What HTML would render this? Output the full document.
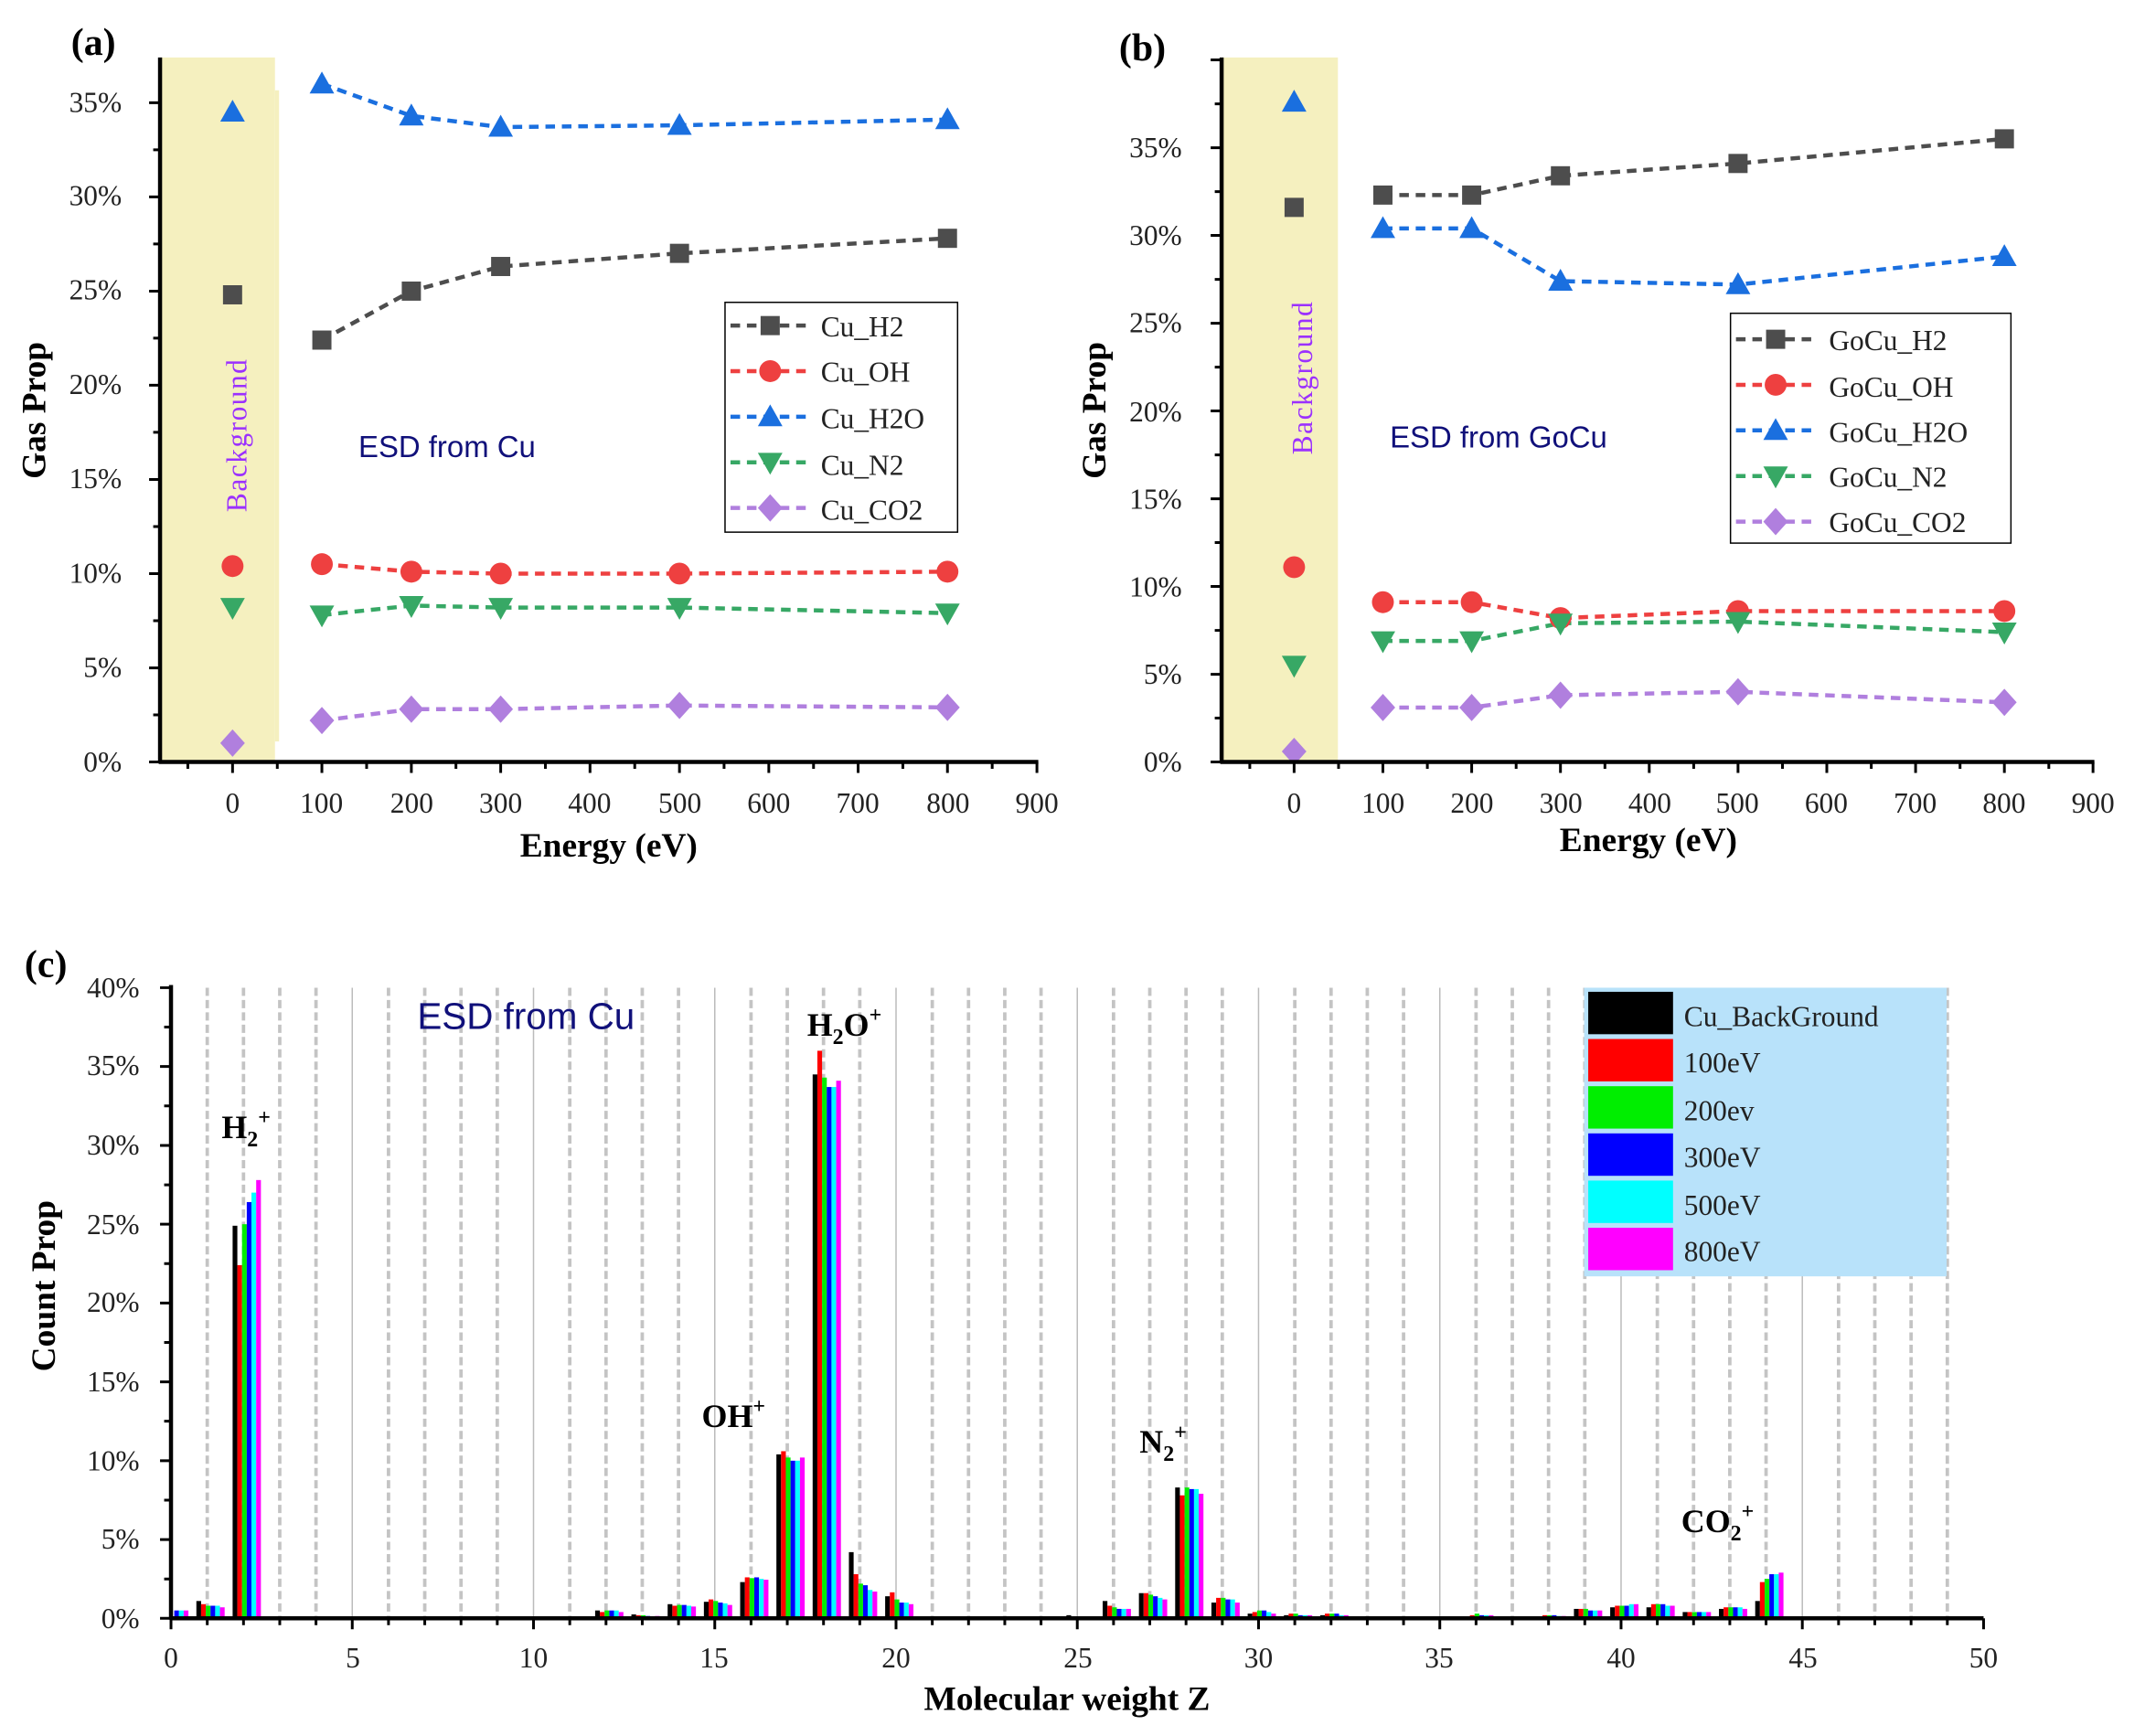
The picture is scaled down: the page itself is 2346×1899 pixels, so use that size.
<!DOCTYPE html>
<html><head><meta charset="utf-8"><style>
html,body{margin:0;padding:0;background:#fff;}
svg{display:block;}
text{font-family:"Liberation Serif",serif;}
.t{font-size:21px;fill:#222;}
.b{font-weight:bold;}
.s{font-family:"Liberation Sans","DejaVu Sans",sans-serif;fill:#10107a;}
.c0{fill:#000}.c1{fill:#ff0000}.c2{fill:#00ee00}.c3{fill:#0000ff}.c4{fill:#00ffff}.c5{fill:#ff00ff}
.dl{fill:none;stroke-width:3;stroke-dasharray:7 5;}
</style></head><body>
<svg width="2346" height="1899" viewBox="0 0 1568 1269" preserveAspectRatio="none" xmlns="http://www.w3.org/2000/svg">
<defs>
<rect id="m0" x="-7" y="-7" width="14" height="14"/>
<circle id="m1" r="8"/>
<polygon id="m2" points="-9,7 9,7 0,-9"/>
<polygon id="m3" points="-9,-7 9,-7 0,9"/>
<polygon id="m4" points="0,-10 9,0 0,10 -9,0"/>
</defs>
<rect width="1568" height="1269" fill="#fff"/>
<!-- ===== (a) ===== -->
<rect x="117" y="42" width="84" height="515" fill="#f5f0bf"/>
<rect x="201" y="66" width="3" height="476" fill="#f5f0bf"/>
<polyline class="dl" stroke="#4d4d4d" points="235.3,248.6 300.7,212.8 366,194.8 496.7,185.2 692.6,174.2"/>
<polyline class="dl" stroke="#ee4040" points="235.3,412.4 300.7,417.9 366,419.3 496.7,419.3 692.6,417.9"/>
<polyline class="dl" stroke="#1a6fdf" points="235.3,61.3 300.7,84.7 366,92.9 496.7,91.6 692.6,87.4"/>
<polyline class="dl" stroke="#37a865" points="235.3,449.6 300.7,442.7 366,444.1 496.7,444.1 692.6,448.2"/>
<polyline class="dl" stroke="#b07fde" points="235.3,526.7 300.7,518.4 366,518.4 496.7,515.7 692.6,517.1"/>
<g fill="#4d4d4d"><use href="#m0" x="170" y="215.5"/><use href="#m0" x="235.3" y="248.6"/><use href="#m0" x="300.7" y="212.8"/><use href="#m0" x="366" y="194.8"/><use href="#m0" x="496.7" y="185.2"/><use href="#m0" x="692.6" y="174.2"/></g>
<g fill="#ee4040"><use href="#m1" x="170" y="413.8"/><use href="#m1" x="235.3" y="412.4"/><use href="#m1" x="300.7" y="417.9"/><use href="#m1" x="366" y="419.3"/><use href="#m1" x="496.7" y="419.3"/><use href="#m1" x="692.6" y="417.9"/></g>
<g fill="#1a6fdf"><use href="#m2" x="170" y="81.9"/><use href="#m2" x="235.3" y="61.3"/><use href="#m2" x="300.7" y="84.7"/><use href="#m2" x="366" y="92.9"/><use href="#m2" x="496.7" y="91.6"/><use href="#m2" x="692.6" y="87.4"/></g>
<g fill="#37a865"><use href="#m3" x="170" y="444.1"/><use href="#m3" x="235.3" y="449.6"/><use href="#m3" x="300.7" y="442.7"/><use href="#m3" x="366" y="444.1"/><use href="#m3" x="496.7" y="444.1"/><use href="#m3" x="692.6" y="448.2"/></g>
<g fill="#b07fde"><use href="#m4" x="170" y="543.2"/><use href="#m4" x="235.3" y="526.7"/><use href="#m4" x="300.7" y="518.4"/><use href="#m4" x="366" y="518.4"/><use href="#m4" x="496.7" y="515.7"/><use href="#m4" x="692.6" y="517.1"/></g>
<line x1="117" y1="42" x2="117" y2="558" stroke="#000" stroke-width="3"/>
<line x1="116" y1="557" x2="759" y2="557" stroke="#000" stroke-width="3"/>
<path stroke="#000" stroke-width="2" fill="none" d="M109 557h8M109 488.2h8M109 419.3h8M109 350.5h8M109 281.6h8M109 212.8h8M109 143.9h8M109 75.1h8M112 522.6h5M112 453.7h5M112 384.9h5M112 316h5M112 247.2h5M112 178.3h5M112 109.5h5M137.3 557v5M170 557v8M202.7 557v5M235.3 557v8M268 557v5M300.7 557v8M333.3 557v5M366 557v8M398.7 557v5M431.3 557v8M464 557v5M496.7 557v8M529.3 557v5M562 557v8M594.7 557v5M627.3 557v8M660 557v5M692.6 557v8M725.3 557v5M758 557v8"/>
<!-- ===== (b) ===== -->
<rect x="893" y="42" width="85" height="515" fill="#f5f0bf"/>
<polyline class="dl" stroke="#4d4d4d" points="1010.9,142.6 1075.8,142.6 1140.7,128.5 1270.5,119.5 1465.2,101.5"/>
<polyline class="dl" stroke="#ee4040" points="1010.9,440.2 1075.8,440.2 1140.7,451.8 1270.5,446.7 1465.2,446.7"/>
<polyline class="dl" stroke="#1a6fdf" points="1010.9,167 1075.8,167 1140.7,205.5 1270.5,208 1465.2,187.5"/>
<polyline class="dl" stroke="#37a865" points="1010.9,468.5 1075.8,468.5 1140.7,455.6 1270.5,454.4 1465.2,462.1"/>
<polyline class="dl" stroke="#b07fde" points="1010.9,517.2 1075.8,517.2 1140.7,508.2 1270.5,505.7 1465.2,513.4"/>
<g fill="#4d4d4d"><use href="#m0" x="946" y="151.6"/><use href="#m0" x="1010.9" y="142.6"/><use href="#m0" x="1075.8" y="142.6"/><use href="#m0" x="1140.7" y="128.5"/><use href="#m0" x="1270.5" y="119.5"/><use href="#m0" x="1465.2" y="101.5"/></g>
<g fill="#ee4040"><use href="#m1" x="946" y="414.6"/><use href="#m1" x="1010.9" y="440.2"/><use href="#m1" x="1075.8" y="440.2"/><use href="#m1" x="1140.7" y="451.8"/><use href="#m1" x="1270.5" y="446.7"/><use href="#m1" x="1465.2" y="446.7"/></g>
<g fill="#1a6fdf"><use href="#m2" x="946" y="74.6"/><use href="#m2" x="1010.9" y="167"/><use href="#m2" x="1075.8" y="167"/><use href="#m2" x="1140.7" y="205.5"/><use href="#m2" x="1270.5" y="208"/><use href="#m2" x="1465.2" y="187.5"/></g>
<g fill="#37a865"><use href="#m3" x="946" y="486.4"/><use href="#m3" x="1010.9" y="468.5"/><use href="#m3" x="1075.8" y="468.5"/><use href="#m3" x="1140.7" y="455.6"/><use href="#m3" x="1270.5" y="454.4"/><use href="#m3" x="1465.2" y="462.1"/></g>
<g fill="#b07fde"><use href="#m4" x="946" y="549.3"/><use href="#m4" x="1010.9" y="517.2"/><use href="#m4" x="1075.8" y="517.2"/><use href="#m4" x="1140.7" y="508.2"/><use href="#m4" x="1270.5" y="505.7"/><use href="#m4" x="1465.2" y="513.4"/></g>
<line x1="893" y1="42" x2="893" y2="558" stroke="#000" stroke-width="3"/>
<line x1="892" y1="557" x2="1531" y2="557" stroke="#000" stroke-width="3"/>
<path stroke="#000" stroke-width="2" fill="none" d="M885 557h8M885 492.9h8M885 428.7h8M885 364.6h8M885 300.4h8M885 236.3h8M885 172.1h8M885 108h8M885 43.8h8M888 524.9h5M888 460.8h5M888 396.6h5M888 332.5h5M888 268.4h5M888 204.2h5M888 140.1h5M888 75.9h5M913.6 557v5M946 557v8M978.5 557v5M1010.9 557v8M1043.4 557v5M1075.8 557v8M1108.3 557v5M1140.7 557v8M1173.2 557v5M1205.6 557v8M1238.1 557v5M1270.5 557v8M1303 557v5M1335.4 557v8M1367.9 557v5M1400.3 557v8M1432.8 557v5M1465.2 557v8M1497.7 557v5M1530 557v8"/>
<!-- labels -->
<text x="52" y="40" class="b" font-size="28">(a)</text>
<text x="818" y="44" class="b" font-size="28">(b)</text>
<text x="18" y="714" class="b" font-size="28">(c)</text>
<g class="t" text-anchor="end">
<text x="89" y="564">0%</text><text x="89" y="495">5%</text><text x="89" y="426">10%</text><text x="89" y="357">15%</text><text x="89" y="288">20%</text><text x="89" y="219">25%</text><text x="89" y="150">30%</text><text x="89" y="82">35%</text>
</g>
<g class="t" text-anchor="middle">
<text x="170" y="594">0</text><text x="235" y="594">100</text><text x="301" y="594">200</text><text x="366" y="594">300</text><text x="431" y="594">400</text><text x="497" y="594">500</text><text x="562" y="594">600</text><text x="627" y="594">700</text><text x="693" y="594">800</text><text x="758" y="594">900</text>
</g>
<text x="445" y="626" class="b" font-size="25" text-anchor="middle">Energy (eV)</text>
<text transform="translate(33,300) rotate(-90)" class="b" font-size="25" text-anchor="middle">Gas Prop</text>
<text transform="translate(180,318) rotate(-90)" font-size="21" fill="#9b30ff" text-anchor="middle" letter-spacing="1">Background</text>
<text x="262" y="334" class="s" font-size="22">ESD from Cu</text>
<rect x="530" y="221" width="170" height="168" fill="#fff" stroke="#000" stroke-width="1"/>
<line x1="534" y1="238" x2="592" y2="238" class="dl" stroke="#4d4d4d"/><use href="#m0" x="563" y="238" fill="#4d4d4d"/>
<line x1="534" y1="271.3" x2="592" y2="271.3" class="dl" stroke="#ee4040"/><use href="#m1" x="563" y="271.3" fill="#ee4040"/>
<line x1="534" y1="304.6" x2="592" y2="304.6" class="dl" stroke="#1a6fdf"/><use href="#m2" x="563" y="304.6" fill="#1a6fdf"/>
<line x1="534" y1="338" x2="592" y2="338" class="dl" stroke="#37a865"/><use href="#m3" x="563" y="338" fill="#37a865"/>
<line x1="534" y1="371.3" x2="592" y2="371.3" class="dl" stroke="#b07fde"/><use href="#m4" x="563" y="371.3" fill="#b07fde"/>
<g class="t" font-size="22"><text x="600" y="246">Cu_H2</text><text x="600" y="279">Cu_OH</text><text x="600" y="313">Cu_H2O</text><text x="600" y="347">Cu_N2</text><text x="600" y="380">Cu_CO2</text></g>
<g class="t" text-anchor="end">
<text x="864" y="564">0%</text><text x="864" y="500">5%</text><text x="864" y="436">10%</text><text x="864" y="372">15%</text><text x="864" y="308">20%</text><text x="864" y="243">25%</text><text x="864" y="179">30%</text><text x="864" y="115">35%</text>
</g>
<g class="t" text-anchor="middle">
<text x="946" y="594">0</text><text x="1011" y="594">100</text><text x="1076" y="594">200</text><text x="1141" y="594">300</text><text x="1206" y="594">400</text><text x="1270" y="594">500</text><text x="1335" y="594">600</text><text x="1400" y="594">700</text><text x="1465" y="594">800</text><text x="1530" y="594">900</text>
</g>
<text x="1205" y="622" class="b" font-size="25" text-anchor="middle">Energy (eV)</text>
<text transform="translate(808,300) rotate(-90)" class="b" font-size="25" text-anchor="middle">Gas Prop</text>
<text transform="translate(959,276) rotate(-90)" font-size="21" fill="#9b30ff" text-anchor="middle" letter-spacing="1">Background</text>
<text x="1016" y="327" class="s" font-size="22">ESD from GoCu</text>
<rect x="1265" y="229" width="205" height="168" fill="#fff" stroke="#000" stroke-width="1"/>
<line x1="1269" y1="248" x2="1327" y2="248" class="dl" stroke="#4d4d4d"/><use href="#m0" x="1298" y="248" fill="#4d4d4d"/>
<line x1="1269" y1="281.3" x2="1327" y2="281.3" class="dl" stroke="#ee4040"/><use href="#m1" x="1298" y="281.3" fill="#ee4040"/>
<line x1="1269" y1="314.6" x2="1327" y2="314.6" class="dl" stroke="#1a6fdf"/><use href="#m2" x="1298" y="314.6" fill="#1a6fdf"/>
<line x1="1269" y1="348" x2="1327" y2="348" class="dl" stroke="#37a865"/><use href="#m3" x="1298" y="348" fill="#37a865"/>
<line x1="1269" y1="381.3" x2="1327" y2="381.3" class="dl" stroke="#b07fde"/><use href="#m4" x="1298" y="381.3" fill="#b07fde"/>
<g class="t" font-size="22"><text x="1337" y="256">GoCu_H2</text><text x="1337" y="290">GoCu_OH</text><text x="1337" y="323">GoCu_H2O</text><text x="1337" y="356">GoCu_N2</text><text x="1337" y="389">GoCu_CO2</text></g>
<!-- ===== (c) ===== -->
<path stroke="#bbb" stroke-width="1" fill="none" d="M257.5 722V1183M390 722V1183M522.5 722V1183M655 722V1183M787.5 722V1183M920 722V1183M1052.5 722V1183M1185 722V1183M1317.5 722V1183"/>
<path stroke="#c4c4c4" stroke-width="2.5" stroke-dasharray="6 3" fill="none" d="M151.5 722V1183M178 722V1183M204.5 722V1183M231 722V1183M284 722V1183M310.5 722V1183M337 722V1183M363.5 722V1183M416.5 722V1183M443 722V1183M469.5 722V1183M496 722V1183M549 722V1183M575.5 722V1183M602 722V1183M628.5 722V1183M681.5 722V1183M708 722V1183M734.5 722V1183M761 722V1183M814 722V1183M840.5 722V1183M867 722V1183M893.5 722V1183M946.5 722V1183M973 722V1183M999.5 722V1183M1026 722V1183M1079 722V1183M1105.5 722V1183M1132 722V1183M1158.5 722V1183M1211.5 722V1183M1238 722V1183M1264.5 722V1183M1291 722V1183M1344 722V1183M1370.5 722V1183M1397 722V1183M1423.5 722V1183"/>
<!-- bars -->
<g transform="translate(117.05,1183) scale(1,-1)"><rect class="c3" x="10.335" width="3.45" height="5.76"/><rect class="c4" x="13.78" width="3.45" height="5.76"/><rect class="c5" x="17.225" width="3.45" height="5.76"/></g>
<g transform="translate(143.55,1183) scale(1,-1)"><rect class="c0" x="0" width="3.45" height="12.68"/><rect class="c1" x="3.445" width="3.45" height="10.37"/><rect class="c2" x="6.89" width="3.45" height="9.22"/><rect class="c3" x="10.335" width="3.45" height="9.22"/><rect class="c4" x="13.78" width="3.45" height="9.22"/><rect class="c5" x="17.225" width="3.45" height="8.07"/></g>
<g transform="translate(170.05,1183) scale(1,-1)"><rect class="c0" x="0" width="3.45" height="287"/><rect class="c1" x="3.445" width="3.45" height="258.2"/><rect class="c2" x="6.89" width="3.45" height="288.1"/><rect class="c3" x="10.335" width="3.45" height="304.3"/><rect class="c4" x="13.78" width="3.45" height="311.2"/><rect class="c5" x="17.225" width="3.45" height="320.4"/></g>
<g transform="translate(435.05,1183) scale(1,-1)"><rect class="c0" x="0" width="3.45" height="5.76"/><rect class="c1" x="3.445" width="3.45" height="4.61"/><rect class="c2" x="6.89" width="3.45" height="5.76"/><rect class="c3" x="10.335" width="3.45" height="5.76"/><rect class="c4" x="13.78" width="3.45" height="5.76"/><rect class="c5" x="17.225" width="3.45" height="4.61"/></g>
<g transform="translate(461.55,1183) scale(1,-1)"><rect class="c0" x="0" width="3.45" height="2.88"/><rect class="c1" x="3.445" width="3.45" height="2.3"/><rect class="c2" x="6.89" width="3.45" height="2.3"/><rect class="c3" x="10.335" width="3.45" height="1.73"/><rect class="c4" x="13.78" width="3.45" height="1.15"/><rect class="c5" x="17.225" width="3.45" height="1.73"/></g>
<g transform="translate(488.05,1183) scale(1,-1)"><rect class="c0" x="0" width="3.45" height="10.37"/><rect class="c1" x="3.445" width="3.45" height="9.22"/><rect class="c2" x="6.89" width="3.45" height="9.8"/><rect class="c3" x="10.335" width="3.45" height="9.8"/><rect class="c4" x="13.78" width="3.45" height="9.22"/><rect class="c5" x="17.225" width="3.45" height="8.64"/></g>
<g transform="translate(514.55,1183) scale(1,-1)"><rect class="c0" x="0" width="3.45" height="12.1"/><rect class="c1" x="3.445" width="3.45" height="13.83"/><rect class="c2" x="6.89" width="3.45" height="12.68"/><rect class="c3" x="10.335" width="3.45" height="11.53"/><rect class="c4" x="13.78" width="3.45" height="10.95"/><rect class="c5" x="17.225" width="3.45" height="9.8"/></g>
<g transform="translate(541.05,1183) scale(1,-1)"><rect class="c0" x="0" width="3.45" height="26.51"/><rect class="c1" x="3.445" width="3.45" height="29.97"/><rect class="c2" x="6.89" width="3.45" height="29.39"/><rect class="c3" x="10.335" width="3.45" height="29.97"/><rect class="c4" x="13.78" width="3.45" height="28.81"/><rect class="c5" x="17.225" width="3.45" height="28.24"/></g>
<g transform="translate(567.55,1183) scale(1,-1)"><rect class="c0" x="0" width="3.45" height="119.86"/><rect class="c1" x="3.445" width="3.45" height="122.17"/><rect class="c2" x="6.89" width="3.45" height="117.56"/><rect class="c3" x="10.335" width="3.45" height="115.25"/><rect class="c4" x="13.78" width="3.45" height="115.25"/><rect class="c5" x="17.225" width="3.45" height="117.56"/></g>
<g transform="translate(594.05,1183) scale(1,-1)"><rect class="c0" x="0" width="3.45" height="397.6"/><rect class="c1" x="3.445" width="3.45" height="414.9"/><rect class="c2" x="6.89" width="3.45" height="395.3"/><rect class="c3" x="10.335" width="3.45" height="388.4"/><rect class="c4" x="13.78" width="3.45" height="388.4"/><rect class="c5" x="17.225" width="3.45" height="393"/></g>
<g transform="translate(620.55,1183) scale(1,-1)"><rect class="c0" x="0" width="3.45" height="48.4"/><rect class="c1" x="3.445" width="3.45" height="32.27"/><rect class="c2" x="6.89" width="3.45" height="25.36"/><rect class="c3" x="10.335" width="3.45" height="24.2"/><rect class="c4" x="13.78" width="3.45" height="20.75"/><rect class="c5" x="17.225" width="3.45" height="19.59"/></g>
<g transform="translate(647.05,1183) scale(1,-1)"><rect class="c0" x="0" width="3.45" height="16.14"/><rect class="c1" x="3.445" width="3.45" height="19.02"/><rect class="c2" x="6.89" width="3.45" height="13.83"/><rect class="c3" x="10.335" width="3.45" height="11.53"/><rect class="c4" x="13.78" width="3.45" height="11.53"/><rect class="c5" x="17.225" width="3.45" height="10.37"/></g>
<g transform="translate(779.55,1183) scale(1,-1)"><rect class="c0" x="0" width="3.45" height="2.3"/><rect class="c1" x="3.445" width="3.45" height="1.15"/><rect class="c2" x="6.89" width="3.45" height="1.15"/></g>
<g transform="translate(806.05,1183) scale(1,-1)"><rect class="c0" x="0" width="3.45" height="12.68"/><rect class="c1" x="3.445" width="3.45" height="9.22"/><rect class="c2" x="6.89" width="3.45" height="8.07"/><rect class="c3" x="10.335" width="3.45" height="6.92"/><rect class="c4" x="13.78" width="3.45" height="6.92"/><rect class="c5" x="17.225" width="3.45" height="6.92"/></g>
<g transform="translate(832.55,1183) scale(1,-1)"><rect class="c0" x="0" width="3.45" height="18.44"/><rect class="c1" x="3.445" width="3.45" height="18.44"/><rect class="c2" x="6.89" width="3.45" height="17.29"/><rect class="c3" x="10.335" width="3.45" height="16.14"/><rect class="c4" x="13.78" width="3.45" height="14.98"/><rect class="c5" x="17.225" width="3.45" height="13.83"/></g>
<g transform="translate(859.05,1183) scale(1,-1)"><rect class="c0" x="0" width="3.45" height="95.66"/><rect class="c1" x="3.445" width="3.45" height="89.9"/><rect class="c2" x="6.89" width="3.45" height="95.66"/><rect class="c3" x="10.335" width="3.45" height="94.5"/><rect class="c4" x="13.78" width="3.45" height="94.5"/><rect class="c5" x="17.225" width="3.45" height="91.05"/></g>
<g transform="translate(885.55,1183) scale(1,-1)"><rect class="c0" x="0" width="3.45" height="11.53"/><rect class="c1" x="3.445" width="3.45" height="14.98"/><rect class="c2" x="6.89" width="3.45" height="14.98"/><rect class="c3" x="10.335" width="3.45" height="13.83"/><rect class="c4" x="13.78" width="3.45" height="13.83"/><rect class="c5" x="17.225" width="3.45" height="11.53"/></g>
<g transform="translate(912.05,1183) scale(1,-1)"><rect class="c0" x="0" width="3.45" height="3.46"/><rect class="c1" x="3.445" width="3.45" height="4.61"/><rect class="c2" x="6.89" width="3.45" height="5.76"/><rect class="c3" x="10.335" width="3.45" height="5.76"/><rect class="c4" x="13.78" width="3.45" height="4.61"/><rect class="c5" x="17.225" width="3.45" height="3.46"/></g>
<g transform="translate(938.55,1183) scale(1,-1)"><rect class="c0" x="0" width="3.45" height="2.3"/><rect class="c1" x="3.445" width="3.45" height="3.46"/><rect class="c2" x="6.89" width="3.45" height="3.46"/><rect class="c3" x="10.335" width="3.45" height="2.3"/><rect class="c4" x="13.78" width="3.45" height="2.3"/><rect class="c5" x="17.225" width="3.45" height="2.3"/></g>
<g transform="translate(965.05,1183) scale(1,-1)"><rect class="c0" x="0" width="3.45" height="2.3"/><rect class="c1" x="3.445" width="3.45" height="3.46"/><rect class="c2" x="6.89" width="3.45" height="3.46"/><rect class="c3" x="10.335" width="3.45" height="3.46"/><rect class="c4" x="13.78" width="3.45" height="2.3"/><rect class="c5" x="17.225" width="3.45" height="2.3"/></g>
<g transform="translate(1071.05,1183) scale(1,-1)"><rect class="c0" x="0" width="3.45" height="1.15"/><rect class="c1" x="3.445" width="3.45" height="2.3"/><rect class="c2" x="6.89" width="3.45" height="3.46"/><rect class="c3" x="10.335" width="3.45" height="2.3"/><rect class="c4" x="13.78" width="3.45" height="2.3"/><rect class="c5" x="17.225" width="3.45" height="2.3"/></g>
<g transform="translate(1124.05,1183) scale(1,-1)"><rect class="c0" x="0" width="3.45" height="1.15"/><rect class="c1" x="3.445" width="3.45" height="2.3"/><rect class="c2" x="6.89" width="3.45" height="2.3"/><rect class="c3" x="10.335" width="3.45" height="2.3"/><rect class="c4" x="13.78" width="3.45" height="1.73"/><rect class="c5" x="17.225" width="3.45" height="1.73"/></g>
<g transform="translate(1150.55,1183) scale(1,-1)"><rect class="c0" x="0" width="3.45" height="6.92"/><rect class="c1" x="3.445" width="3.45" height="6.92"/><rect class="c2" x="6.89" width="3.45" height="6.92"/><rect class="c3" x="10.335" width="3.45" height="5.76"/><rect class="c4" x="13.78" width="3.45" height="5.76"/><rect class="c5" x="17.225" width="3.45" height="5.76"/></g>
<g transform="translate(1177.05,1183) scale(1,-1)"><rect class="c0" x="0" width="3.45" height="8.07"/><rect class="c1" x="3.445" width="3.45" height="9.22"/><rect class="c2" x="6.89" width="3.45" height="9.22"/><rect class="c3" x="10.335" width="3.45" height="9.22"/><rect class="c4" x="13.78" width="3.45" height="10.37"/><rect class="c5" x="17.225" width="3.45" height="10.37"/></g>
<g transform="translate(1203.55,1183) scale(1,-1)"><rect class="c0" x="0" width="3.45" height="8.07"/><rect class="c1" x="3.445" width="3.45" height="10.37"/><rect class="c2" x="6.89" width="3.45" height="10.37"/><rect class="c3" x="10.335" width="3.45" height="10.37"/><rect class="c4" x="13.78" width="3.45" height="9.22"/><rect class="c5" x="17.225" width="3.45" height="9.22"/></g>
<g transform="translate(1230.05,1183) scale(1,-1)"><rect class="c0" x="0" width="3.45" height="4.61"/><rect class="c1" x="3.445" width="3.45" height="4.61"/><rect class="c2" x="6.89" width="3.45" height="4.61"/><rect class="c3" x="10.335" width="3.45" height="4.61"/><rect class="c4" x="13.78" width="3.45" height="4.61"/><rect class="c5" x="17.225" width="3.45" height="4.61"/></g>
<g transform="translate(1256.55,1183) scale(1,-1)"><rect class="c0" x="0" width="3.45" height="6.92"/><rect class="c1" x="3.445" width="3.45" height="8.07"/><rect class="c2" x="6.89" width="3.45" height="8.07"/><rect class="c3" x="10.335" width="3.45" height="8.07"/><rect class="c4" x="13.78" width="3.45" height="8.07"/><rect class="c5" x="17.225" width="3.45" height="6.92"/></g>
<g transform="translate(1283.05,1183) scale(1,-1)"><rect class="c0" x="0" width="3.45" height="12.68"/><rect class="c1" x="3.445" width="3.45" height="26.51"/><rect class="c2" x="6.89" width="3.45" height="28.81"/><rect class="c3" x="10.335" width="3.45" height="32.27"/><rect class="c4" x="13.78" width="3.45" height="32.27"/><rect class="c5" x="17.225" width="3.45" height="33.42"/></g>
<line x1="125" y1="720" x2="125" y2="1184" stroke="#000" stroke-width="3"/>
<line x1="124" y1="1183" x2="1450" y2="1183" stroke="#000" stroke-width="3"/>
<path stroke="#000" stroke-width="2" fill="none" d="M117 1183h8M117 1125.4h8M117 1067.8h8M117 1010.1h8M117 952.5h8M117 894.9h8M117 837.3h8M117 779.6h8M117 722h8M120 1154.2h5M120 1096.6h5M120 1038.9h5M120 981.3h5M120 923.7h5M120 866.1h5M120 808.4h5M120 750.8h5M125 1183v8M151.5 1183v5M178 1183v5M204.5 1183v5M231 1183v5M257.5 1183v8M284 1183v5M310.5 1183v5M337 1183v5M363.5 1183v5M390 1183v8M416.5 1183v5M443 1183v5M469.5 1183v5M496 1183v5M522.5 1183v8M549 1183v5M575.5 1183v5M602 1183v5M628.5 1183v5M655 1183v8M681.5 1183v5M708 1183v5M734.5 1183v5M761 1183v5M787.5 1183v8M814 1183v5M840.5 1183v5M867 1183v5M893.5 1183v5M920 1183v8M946.5 1183v5M973 1183v5M999.5 1183v5M1026 1183v5M1052.5 1183v8M1079 1183v5M1105.5 1183v5M1132 1183v5M1158.5 1183v5M1185 1183v8M1211.5 1183v5M1238 1183v5M1264.5 1183v5M1291 1183v5M1317.5 1183v8M1344 1183v5M1370.5 1183v5M1397 1183v5M1423.5 1183v5M1450 1183v8"/>
<g class="t" text-anchor="end">
<text x="102" y="1190">0%</text><text x="102" y="1132">5%</text><text x="102" y="1075">10%</text><text x="102" y="1017">15%</text><text x="102" y="959">20%</text><text x="102" y="902">25%</text><text x="102" y="844">30%</text><text x="102" y="786">35%</text><text x="102" y="729">40%</text>
</g>
<g class="t" text-anchor="middle">
<text x="125" y="1219">0</text><text x="258" y="1219">5</text><text x="390" y="1219">10</text><text x="522" y="1219">15</text><text x="655" y="1219">20</text><text x="788" y="1219">25</text><text x="920" y="1219">30</text><text x="1052" y="1219">35</text><text x="1185" y="1219">40</text><text x="1318" y="1219">45</text><text x="1450" y="1219">50</text>
</g>
<text x="780" y="1250" class="b" font-size="25" text-anchor="middle">Molecular weight Z</text>
<text transform="translate(40,940) rotate(-90)" class="b" font-size="25" text-anchor="middle">Count Prop</text>
<text x="305" y="752" class="s" font-size="27">ESD from Cu</text>
<g class="b" font-size="24">
<text x="162" y="832">H<tspan font-size="16" dy="6">2</tspan><tspan font-size="16" dy="-16">+</tspan></text>
<text x="513" y="1043">OH<tspan font-size="16" dy="-10">+</tspan></text>
<text x="590" y="757">H<tspan font-size="16" dy="6">2</tspan><tspan dy="-6">O</tspan><tspan font-size="16" dy="-10">+</tspan></text>
<text x="833" y="1062">N<tspan font-size="16" dy="6">2</tspan><tspan font-size="16" dy="-16">+</tspan></text>
<text x="1229" y="1120">CO<tspan font-size="16" dy="6">2</tspan><tspan font-size="16" dy="-16">+</tspan></text>
</g>
<rect x="1158" y="722" width="265" height="211" fill="#b8e2fa"/>
<rect class="c0" x="1161" y="725" width="62" height="31"/>
<rect class="c1" x="1161" y="759.5" width="62" height="31"/>
<rect class="c2" x="1161" y="794" width="62" height="31"/>
<rect class="c3" x="1161" y="828.5" width="62" height="31"/>
<rect class="c4" x="1161" y="863" width="62" height="31"/>
<rect class="c5" x="1161" y="897.5" width="62" height="31"/>
<g class="t" font-size="24"><text x="1231" y="750">Cu_BackGround</text><text x="1231" y="784">100eV</text><text x="1231" y="819">200ev</text><text x="1231" y="853">300eV</text><text x="1231" y="888">500eV</text><text x="1231" y="922">800eV</text></g>
</svg>
</body></html>
